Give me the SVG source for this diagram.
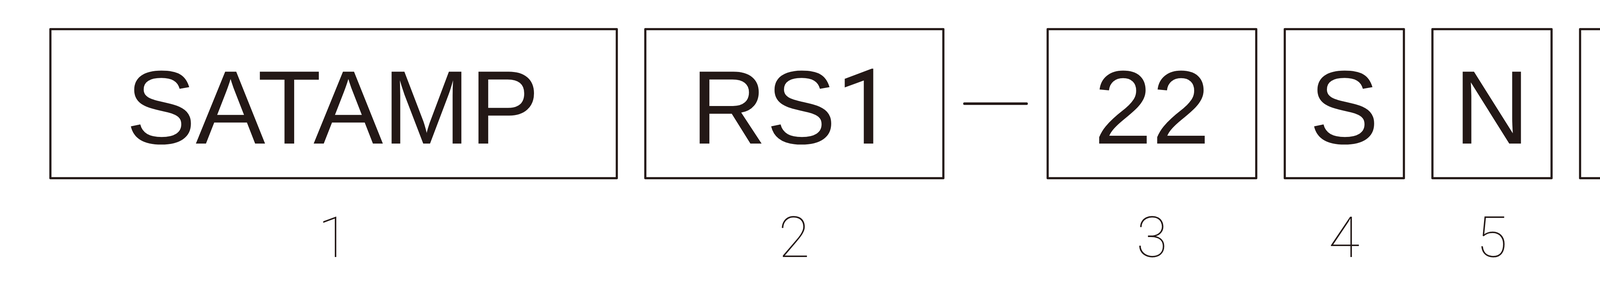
<svg xmlns="http://www.w3.org/2000/svg" width="7761" height="749" viewBox="0 0 7761 749">
<style>
.box{fill:none;stroke:#231816;stroke-width:5.5;stroke-linejoin:round}
.code{font-family:"Liberation Sans",Arial,sans-serif;font-size:267px;fill:#231816;text-anchor:middle}
.one{font-family:Roboto,"Liberation Sans",sans-serif;font-size:268px}
.num{font-family:Roboto,"DejaVu Sans",sans-serif;font-weight:100;font-size:145px;fill:#231816;text-anchor:middle}
.dash{stroke:#231816;stroke-width:6.5;stroke-linecap:round}
</style>
<rect width="7761" height="749" fill="#ffffff"/>
<g id="node1"><rect class="box" x="129" y="74.5" width="1450" height="381"/><text class="code" x="852" y="367">SATAMP</text><text class="num" x="854" y="657">1</text></g>
<g id="node2"><rect class="box" x="1652" y="74.5" width="763" height="381"/><text class="code" x="2030" y="367">RS<tspan class="one">1</tspan></text><text class="num" x="2033" y="657">2</text></g>
<g id="node3"><rect class="box" x="2682" y="74.5" width="534" height="381"/><text class="code" x="2949" y="367">22</text><text class="num" x="2949" y="657">3</text></g>
<g id="node4"><rect class="box" x="3289" y="74.5" width="305" height="381"/><text class="code" x="3441" y="367">S</text><text class="num" x="3441" y="657">4</text></g>
<g id="node5"><rect class="box" x="3667" y="74.5" width="305" height="381"/><text class="code" x="3819" y="367">N</text><text class="num" x="3819" y="657">5</text></g>
<g id="node6"><rect class="box" x="4045" y="74.5" width="305" height="381"/><text class="code" x="4197" y="367">A</text><text class="num" x="4197" y="657">6</text></g>
<g id="node7"><rect class="box" x="4423" y="74.5" width="305" height="381"/><text class="code" x="4575" y="367">C</text><text class="num" x="4575" y="657">7</text></g>
<g id="node8"><rect class="box" x="4800" y="74.5" width="305" height="381"/><text class="code one" x="4950" y="367">1</text><text class="num" x="4953" y="657">8</text></g>
<g id="node9"><rect class="box" x="5178" y="74.5" width="306" height="381"/><text class="code" x="5331" y="367">R</text><text class="num" x="5331" y="657">9</text></g>
<g id="connectors"><line class="dash" x1="2469" y1="265" x2="2628" y2="265"/></g>
</svg>
